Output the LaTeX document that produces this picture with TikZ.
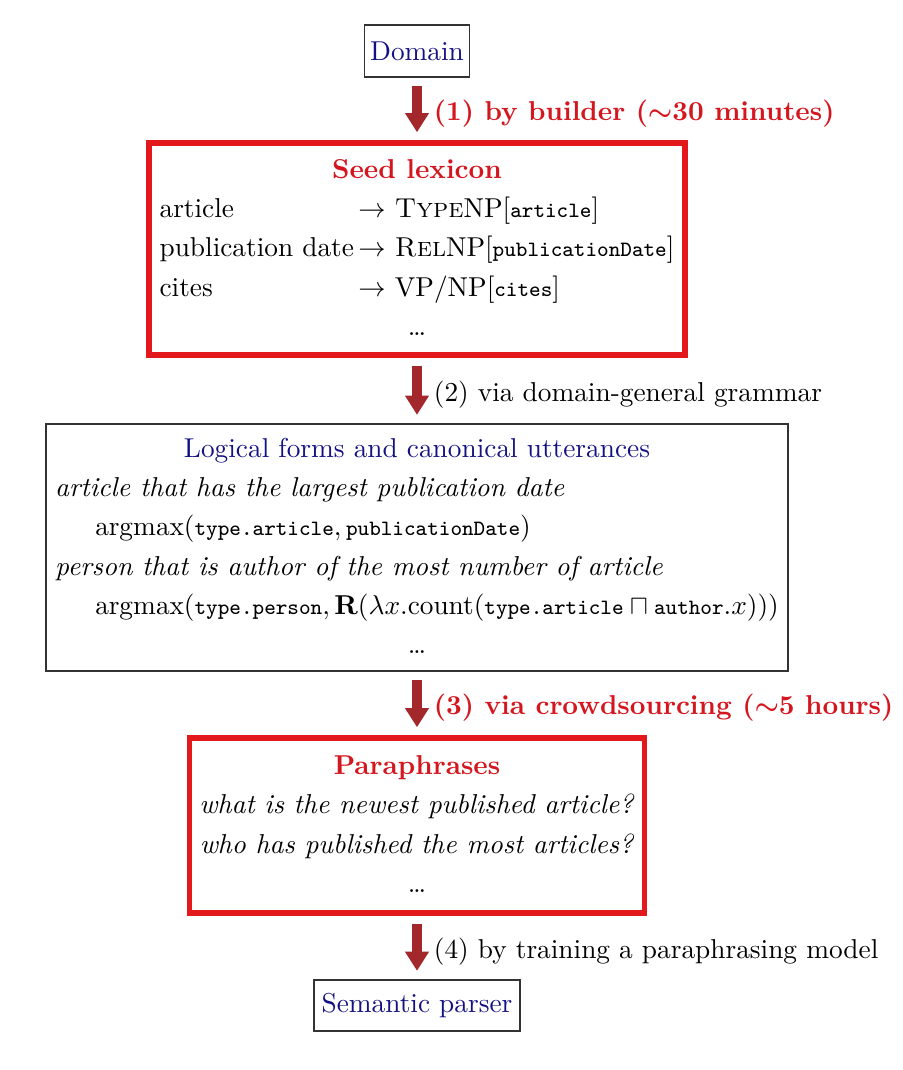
\documentclass[tikz,border=0pt]{standalone}
\usetikzlibrary{arrows.meta}
\definecolor{boxred}{RGB}{226,24,28}
\definecolor{titlered}{RGB}{212,22,30}
\definecolor{flowred}{RGB}{162,40,44}
\definecolor{navy}{RGB}{20,18,130}
\newcommand{\lfs}[1]{{\footnotesize\ttfamily #1}}
\def\px{0.366pt}
\tikzset{
  plainbox/.style={draw=black!80, line width=0.7pt, inner sep=0pt},
  redbox/.style={draw=boxred, line width=1.85pt, inner sep=0pt},
  flow/.style={draw=flowred, line width=3.7pt, -{Triangle[length=7pt,width=8.3pt]},
    shorten <=3pt, shorten >=3pt},
  flowlabel/.style={midway, anchor=west, xshift=1pt, yshift=-1.5pt},
  hotlabel/.style={flowlabel, text=titlered, font=\bfseries\boldmath},
}
\begin{document}
\begin{tikzpicture}[x=\px, y=-\px]
  \useasboundingbox (0,0) rectangle (902,1070);
  \def\arraystretch{1.2}
  % boxes, top to bottom
  \node[plainbox, minimum width=105*\px, minimum height=52*\px, text=navy] (domain) at (417,51) {Domain};
  \node[redbox, minimum width=536*\px, minimum height=212*\px] (seed) at (417,249) {%
    \begin{tabular}{@{}l@{\,}l@{}}
      \multicolumn{2}{c}{\color{titlered}\bfseries Seed lexicon}\\
      article          & $\rightarrow$ \textsc{Type}NP$[$\lfs{article}$]$\\
      publication date & $\rightarrow$ \textsc{Rel}NP$[$\lfs{publicationDate}$]$\\
      cites            & $\rightarrow$ VP/NP$[$\lfs{cites}$]$\\
      \multicolumn{2}{c}{\dots}
    \end{tabular}};
  \node[plainbox, minimum width=742*\px, minimum height=247*\px] (logic) at (417,547.5) {%
    \begin{tabular}{@{}l@{}}
      \multicolumn{1}{c}{\color{navy}Logical forms and canonical utterances}\\
      \textit{article that has the largest publication date}\\
      \hspace*{14.6pt}$\mathrm{argmax}(\hbox{\lfs{type.article}},\hbox{\lfs{publicationDate}})$\\
      \textit{person that is author of the most number of article}\\
      \hspace*{14.6pt}$\mathrm{argmax}(\hbox{\lfs{type.person}},\mathbf{R}(\lambda x.\mathrm{count}(\hbox{\lfs{type.article}}\sqcap\hbox{\lfs{author}}.x)))$\\
      \multicolumn{1}{c}{\dots}
    \end{tabular}};
  \node[redbox, minimum width=455*\px, minimum height=175*\px] (para) at (417,825.5) {%
    \begin{tabular}{@{}c@{}}
      {\color{titlered}\bfseries Paraphrases}\\
      \textit{what is the newest published article?}\\
      \textit{who has published the most articles?}\\
      \dots
    \end{tabular}};
  \node[plainbox, minimum width=206*\px, minimum height=51*\px, text=navy] (parser) at (417,1005.5) {Semantic parser};
  % steps
  \draw[flow] (domain) -- (seed) node[hotlabel] (lab1) {(1) by builder ($\sim$30 minutes)};
  \draw[flow] (seed) -- (logic) node[flowlabel] (lab2) {(2) via domain-general grammar};
  \draw[flow] (logic) -- (para) node[hotlabel] (lab3) {(3) via crowdsourcing ($\sim$5 hours)};
  \draw[flow] (para) -- (parser) node[flowlabel] (lab4) {(4) by training a paraphrasing model};
\end{tikzpicture}
\end{document}
